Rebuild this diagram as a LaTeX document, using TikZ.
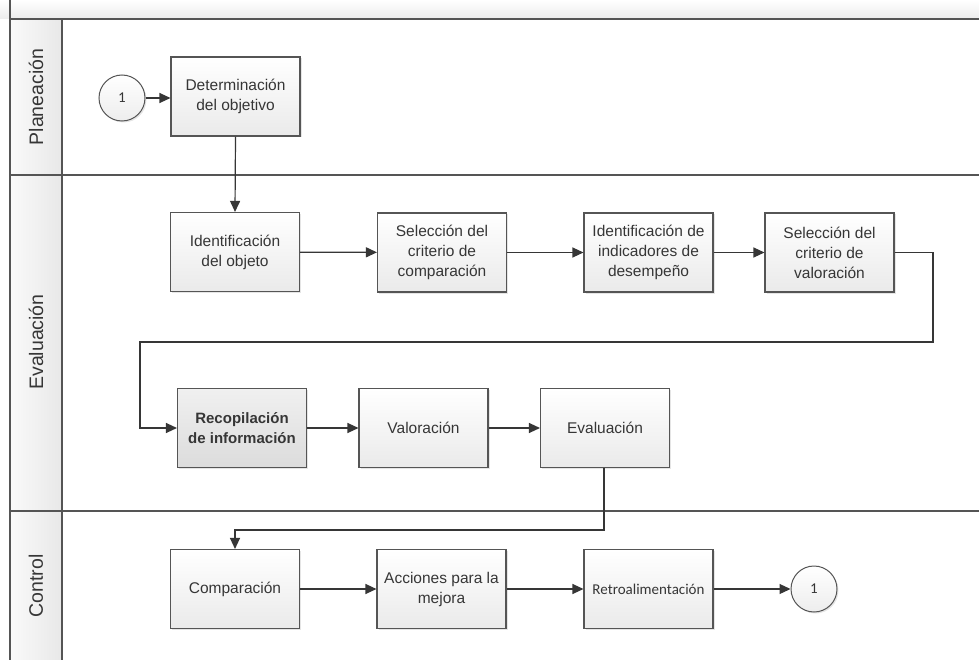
\documentclass[tikz,border=0pt]{standalone}
\usepackage{fontspec}
\setmainfont{Liberation Sans}
\newfontfamily\calib{Carlito}
\usetikzlibrary{arrows.meta,shadows}
\definecolor{ink}{HTML}{363636}
\definecolor{rule}{HTML}{555555}
\definecolor{boxtop}{HTML}{FFFFFF}
\definecolor{boxbot}{HTML}{EAEAEA}
\definecolor{keytop}{HTML}{F0F0F0}
\definecolor{keybot}{HTML}{DCDCDC}
\definecolor{laneA}{HTML}{FAFAFA}
\definecolor{laneB}{HTML}{E8E8E8}
\definecolor{strip}{HTML}{ECECEC}
\definecolor{circbot}{HTML}{EDEDED}
\tikzset{
  procbox/.style={rectangle, draw=rule, line width=1.1pt, top color=boxtop, bottom color=boxbot,
    minimum width=129pt, minimum height=79pt, inner sep=2pt, align=center, text=ink,
    font=\fontsize{15.5}{20}\selectfont,
    drop shadow={shadow xshift=1.5pt, shadow yshift=-1.5pt, opacity=0.1, fill=black}},
  keybox/.style={procbox, top color=keytop, bottom color=keybot},
  connector/.style={circle, draw=rule, line width=1pt, top color=white, bottom color=circbot,
    minimum size=46pt, inner sep=0pt, text=ink, font=\calib\fontsize{15}{17}\selectfont,
    drop shadow={shadow xshift=1.5pt, shadow yshift=-1.5pt, opacity=0.1, fill=black}},
  flow/.style={draw=ink, line width=1.2pt, -{Triangle[length=11pt,width=10pt]}},
  lanelabel/.style={rotate=90, text=ink, font=\fontsize{19.5}{23}\selectfont},
  laneline/.style={draw=rule, line width=1.3pt}
}
\begin{document}
\begin{tikzpicture}[x=1pt,y=-1pt]
\useasboundingbox (0,0) rectangle (979,660);
\fill[white] (0,0) rectangle (979,660);

% header strip along the top
\shade[top color=white, bottom color=strip] (0,0) rectangle (979,19);
% lane title column
\shade[left color=laneA, right color=laneB] (10,19) rectangle (62,660);

% lane borders
\draw[laneline] (10,0) -- (10,660);
\draw[laneline] (62,19) -- (62,660);
\draw[laneline] (10,19) -- (979,19);
\draw[laneline] (10,175) -- (979,175);
\draw[laneline] (10,511) -- (979,511);

% lane titles
\node[lanelabel] (tplan) at (36,97) {Planeación};
\node[lanelabel] (teval) at (36,342) {Evaluación};
\node[lanelabel] (tctrl) at (36,586) {Control};

% Planeación
\node[connector] (c1) at (122,98) {1};
\node[procbox] (det) at (235.5,96.5) {Determinación\\del objetivo};

% Evaluación
\node[procbox] (idobj) at (235,252) {Identificación\\del objeto};
\node[procbox] (selcomp) at (442,252.5) {Selección del\\criterio de\\comparación};
\node[procbox] (ind) at (648.5,252.5) {Identificación de\\indicadores de\\desempeño};
\node[procbox] (selval) at (829.5,252.5) {Selección del\\criterio de\\valoración};
\node[keybox, font=\bfseries\fontsize{15}{20}\selectfont] (recop) at (242,428) {Recopilación\\de información};
\node[procbox] (valor) at (423.5,428) {Valoración};
\node[procbox] (evalb) at (605,428) {Evaluación};

% Control
\node[procbox] (comp) at (235,589) {Comparación};
\node[procbox] (acc) at (441.5,589) {Acciones para la\\mejora};
\node[procbox, font=\calib\fontsize{15}{17}\selectfont] (retro) at (648.5,589) {Retroalimentación};
\node[connector] (c2) at (814,589) {1};

% routing points
\coordinate (rturn) at (933,342);
\coordinate (lturn) at (140,342);
\coordinate (dturn) at (604,530);

% connectors
\draw[flow] (c1.east) -- (c1.east -| det.west);
\draw[flow] (det.south) -- (idobj.north);
\draw[flow] (idobj) -- (selcomp);
\draw[flow] (selcomp) -- (ind);
\draw[flow] (ind) -- (selval);
\draw[flow] (selval.east) -| (rturn) -- (lturn) |- (recop.west);
\draw[flow] (recop) -- (valor);
\draw[flow] (valor) -- (evalb);
\draw[flow] (evalb.south -| dturn) -- (dturn) -| (comp.north);
\draw[flow] (comp) -- (acc);
\draw[flow] (acc) -- (retro);
\draw[flow] (retro) -- (c2);
\end{tikzpicture}
\end{document}
